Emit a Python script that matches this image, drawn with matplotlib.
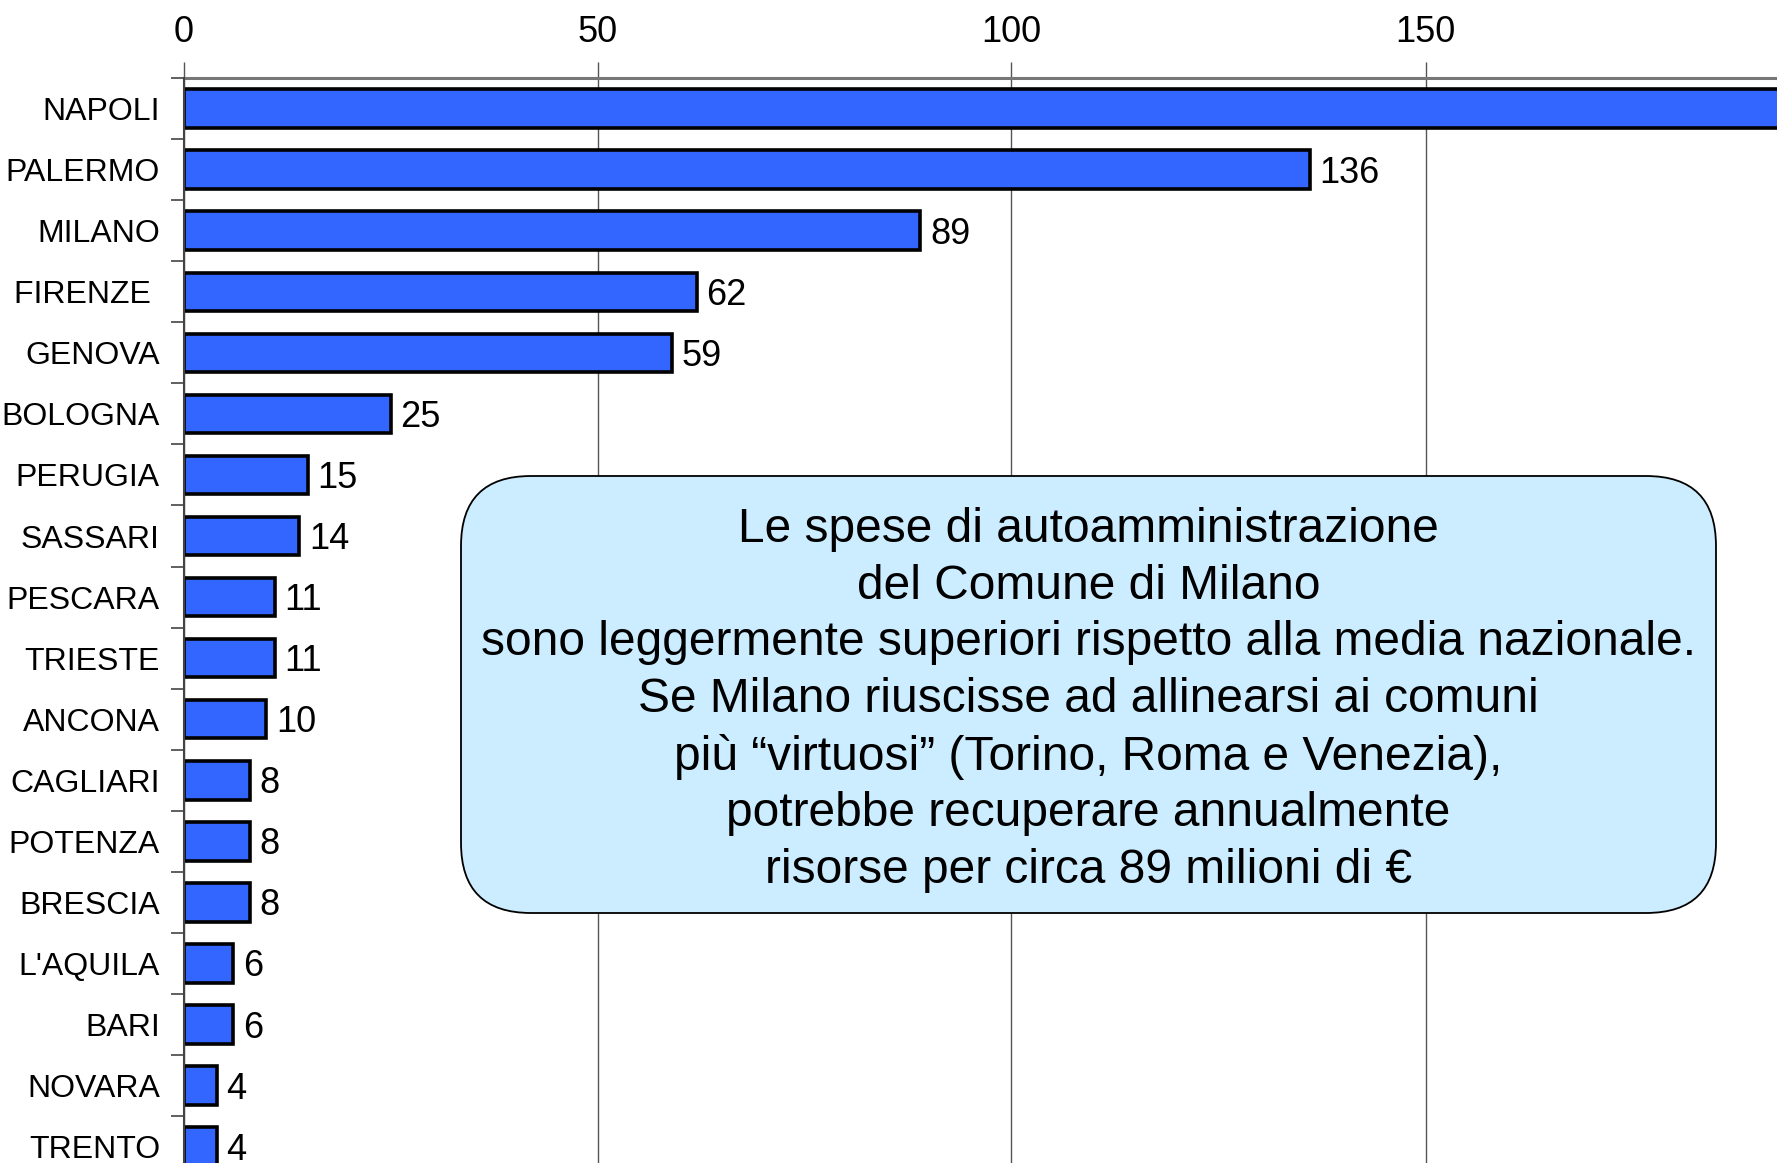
import matplotlib
matplotlib.use("Agg")
import matplotlib.pyplot as plt
from matplotlib.patches import FancyBboxPatch
import numpy as np

cities = ["NAPOLI", "PALERMO", "MILANO", "FIRENZE ", "GENOVA", "BOLOGNA", "PERUGIA",
          "SASSARI", "PESCARA", "TRIESTE", "ANCONA", "CAGLIARI", "POTENZA", "BRESCIA",
          "L'AQUILA", "BARI", "NOVARA", "TRENTO"]
values = [205, 136, 89, 62, 59, 25, 15, 14, 11, 11, 10, 8, 8, 8, 6, 6, 4, 4]
x_ticks = [0, 50, 100, 150]

box_lines = [
    "Le spese di autoamministrazione",
    "del Comune di Milano",
    "sono leggermente superiori rispetto alla media nazionale.",
    "Se Milano riuscisse ad allinearsi ai comuni",
    "più \u201cvirtuosi\u201d (Torino, Roma e Venezia),",
    "potrebbe recuperare annualmente",
    "risorse per circa 89 milioni di \u20ac",
]

regular = "Liberation Sans"

W, H = 1777, 1163
DPI = 100
fig = plt.figure(figsize=(W / DPI, H / DPI), dpi=DPI)

left_px, top_px = 183.5, 78.0
px_per_unit = 8.28
xmax = 200
row_px = 61.07
n = len(cities)
ax_w = xmax * px_per_unit
ax_h = n * row_px
ax = fig.add_axes([left_px / W, (H - top_px - ax_h) / H, ax_w / W, ax_h / H])

y = np.arange(n)
ax.barh(y, values, height=0.63, color="#3366FF", edgecolor="black", linewidth=2.6, zorder=3)
ax.set_xlim(0, xmax)
ax.set_ylim(n - 0.5, -0.5)

for yi, v in zip(y, values):
    ax.annotate(f"{v}", (v, yi), xytext=(7, -2.5), textcoords="offset points",
                ha="left", va="center", fontsize=26, family=regular, zorder=4)

ax.xaxis.tick_top()
ax.set_xticks(x_ticks)
ax.set_xticklabels([str(t) for t in x_ticks], fontsize=26, family=regular)
ax.tick_params(axis="x", which="major", length=11.5, width=1, color="#555555", pad=8.5)
ax.grid(axis="x", color="#555555", linewidth=1, zorder=1)

ax.set_yticks(y)
ax.set_yticklabels(cities, fontsize=23, family=regular)
ax.set_yticks(np.arange(-0.5, n, 1), minor=True)
ax.tick_params(axis="y", which="major", length=0, pad=17)
ax.tick_params(axis="y", which="minor", length=9.5, width=1.2, color="#444444")

for s in ["right", "bottom"]:
    ax.spines[s].set_visible(False)
ax.spines["left"].set_color("#444444")
ax.spines["left"].set_linewidth(1.5)
ax.spines["top"].set_color("#777777")
ax.spines["top"].set_linewidth(2.2)
ax.spines["left"].set_zorder(5)

# overlay for the callout box in pixel coordinates
ov = fig.add_axes([0, 0, 1, 1])
ov.set_xlim(0, W)
ov.set_ylim(H, 0)
ov.axis("off")
bx0, by0, bx1, by1 = 461, 476, 1716, 913
box = FancyBboxPatch((bx0, by0), bx1 - bx0, by1 - by0,
                     boxstyle="round,pad=0,rounding_size=70",
                     facecolor="#CCECFF", edgecolor="black", linewidth=1.3)
ov.add_patch(box)
ov.text((bx0 + bx1) / 2, 700, "\n".join(box_lines), ha="center", va="center",
        multialignment="center", fontsize=34.5, family=regular, linespacing=1.33)

fig.savefig("out.png", dpi=DPI)
